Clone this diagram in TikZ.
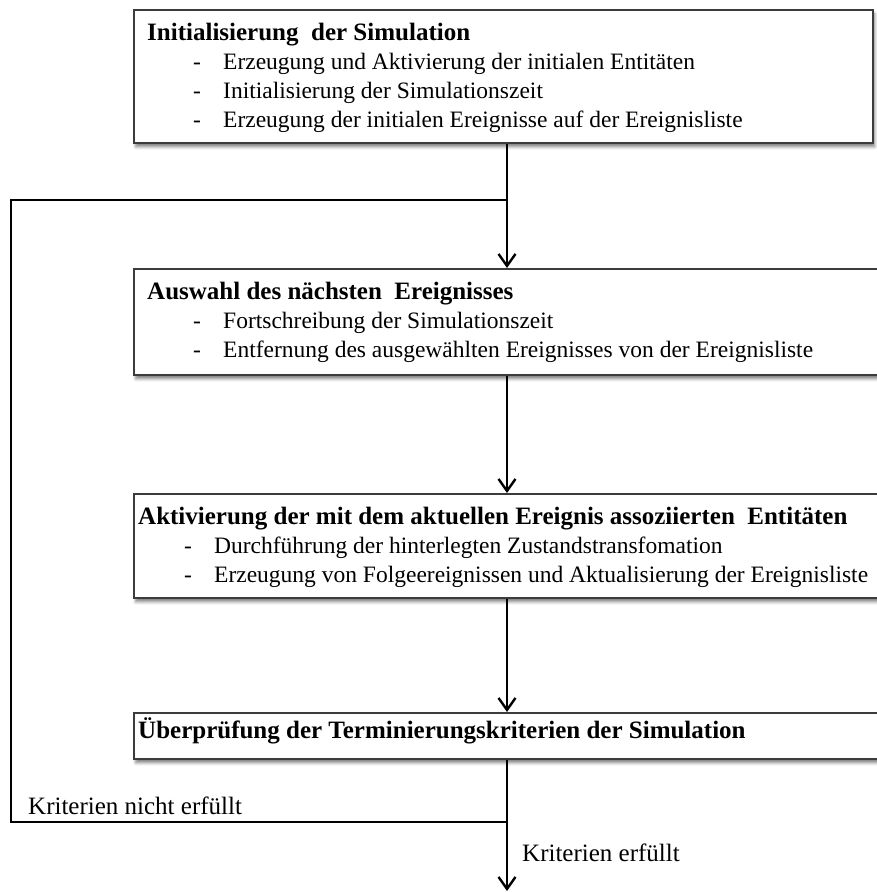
\documentclass[tikz,border=0pt]{standalone}
\usepackage{fontspec}
\setmainfont{Liberation Serif}
\usetikzlibrary{arrows.meta,shadows.blur}
\definecolor{boxgray}{HTML}{3C3C3C}
\newcommand\boxtitle[1]{{\fontsize{25}{29}\selectfont\bfseries #1}}
\newcommand\boxitem[1]{\hspace*{46pt}\makebox[30pt][l]{-}#1}
\begin{document}
\begin{tikzpicture}[x=1pt,y=-1pt,
  box/.style={draw=boxgray, line width=1.5pt, fill=white, rectangle, inner sep=0pt,
    anchor=north west,
    blur shadow={shadow xshift=2pt, shadow yshift=-4pt, shadow blur radius=3pt, shadow opacity=50}},
  body/.style={anchor=base west, inner sep=0pt, font=\fontsize{23.5}{29}\selectfont},
  branch/.style={anchor=base west, inner sep=0pt, font=\fontsize{25}{29}\selectfont},
  flow/.style={line width=2.4pt, draw=black, line join=miter},
  tip/.style={-{Straight Barb[length=12pt,width=17pt]}}
]
\useasboundingbox (0,0) rectangle (876,892);

% process boxes
\node[box, minimum width=739pt, minimum height=133pt] (b1) at (133,9) {};
\node[box, minimum width=770pt, minimum height=106pt] (b2) at (133,268) {};
\node[box, minimum width=770pt, minimum height=104pt] (b3) at (133,493) {};
\node[box, minimum width=770pt, minimum height=46pt]  (b4) at (133,712) {};

% box texts
\node[body] (t1) at (147,40) {\begin{tabular}[t]{@{}l@{}}
  \boxtitle{Initialisierung\ \ der Simulation}\\
  \boxitem{Erzeugung und Aktivierung der initialen Entitäten}\\
  \boxitem{Initialisierung der Simulationszeit}\\
  \boxitem{Erzeugung der initialen Ereignisse auf der Ereignisliste}
\end{tabular}};
\node[body] (t2) at (147,299) {\begin{tabular}[t]{@{}l@{}}
  \boxtitle{Auswahl des nächsten\ \ Ereignisses}\\
  \boxitem{Fortschreibung der Simulationszeit}\\
  \boxitem{Entfernung des ausgewählten Ereignisses von der Ereignisliste}
\end{tabular}};
\node[body] (t3) at (138,524) {\begin{tabular}[t]{@{}l@{}}
  \boxtitle{Aktivierung der mit dem aktuellen Ereignis assoziierten\ \ Entitäten}\\
  \boxitem{Durchführung der hinterlegten Zustandstransfomation}\\
  \boxitem{Erzeugung von Folgeereignissen und Aktualisierung der Ereignisliste}
\end{tabular}};
\node[body] (t4) at (138,738) {\boxtitle{Überprüfung der Terminierungskriterien der Simulation}};

% connector helper points
\coordinate (split) at (507,200);
\coordinate (merge) at (507,822);
\coordinate (cl) at (11,822);
\coordinate (cu) at (11,200);
\coordinate (exit) at (507,891);

% connectors
\draw[flow, tip] (split |- b1.south) -- (split |- b2.north);
\draw[flow] (merge) -- (cl) -- (cu) -- (split);
\draw[flow, tip] (split |- b2.south) -- (split |- b3.north);
\draw[flow, tip] (split |- b3.south) -- (split |- b4.north);
\draw[flow, tip] (split |- b4.south) -- (exit);

% branch labels
\node[branch] (nok) at (28,814) {Kriterien nicht erfüllt};
\node[branch] (ok) at (522,861) {Kriterien erfüllt};
\end{tikzpicture}
\end{document}
